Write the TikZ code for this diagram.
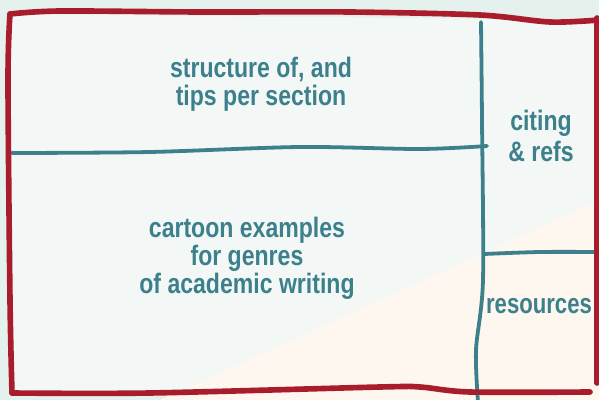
\documentclass[tikz,border=0pt]{standalone}
\usepackage{fontspec}
\setmainfont{Liberation Sans}[FakeStretch=0.82]
\definecolor{mint}{HTML}{E5F1ED}
\definecolor{paper}{HTML}{F3F8F7}
\definecolor{cream}{HTML}{FDF7EF}
\definecolor{frame}{HTML}{A81C2C}
\definecolor{divider}{HTML}{3C808C}
\tikzstyle{section} = [text=divider, font=\bfseries\fontsize{20}{20}\selectfont, align=center]
\tikzstyle{redline} = [draw=frame, line width=4pt, line cap=round, line join=round]
\tikzstyle{tealline} = [draw=divider, line width=2.7pt, line cap=round]
\begin{document}
\begin{tikzpicture}[x=0.025cm, y=-0.025cm]%
	\useasboundingbox (0,0) rectangle (599,400);%
	\clip (0,0) rectangle (599,400);%
	\fill[mint] (0,0) rectangle (599,400);%
	\fill[paper] (10,14) -- (597,20) -- (597,392) -- (12,393) -- cycle;%
	\fill[cream] (160,400) -- (599,200) -- (599,400) -- cycle;%
	% dividers
	\draw[tealline] plot[smooth] coordinates {(12,153) (150,152) (300,147) (420,149) (487,146)};%
	\draw[tealline] plot[smooth] coordinates {(484,254) (540,252) (599,252)};%
	\draw[tealline] plot[smooth] coordinates {(481,22) (482,120) (483,280) (476,350) (478,402)};%
	% frame
	\draw[redline] plot[smooth] coordinates {(10,14) (60,11) (200,12) (350,12) (480,15) (550,22) (599,20)};%
	\draw[redline] plot[smooth] coordinates {(10,14) (8,80) (10,300) (12,393)};%
	\draw[redline] plot[smooth] coordinates {(12,393) (150,393) (380,387) (420,387) (470,392) (590,392)};%
	\draw[redline] plot[smooth] coordinates {(597,18) (597,200) (597,383)};%
	% texts
	\node[section] (structure) at (261,84) {structure of, and\\tips per section};%
	\node[section] (genres) at (247,258) {cartoon examples\\for genres\\of academic writing};%
	\node[section, font=\bfseries\fontsize{20}{21.5}\selectfont] (citing) at (541,136) {citing\\\& refs};%
	\node[section, xscale=0.96, transform shape] (resources) at (539,306) {resources};%
\end{tikzpicture}
\end{document}
